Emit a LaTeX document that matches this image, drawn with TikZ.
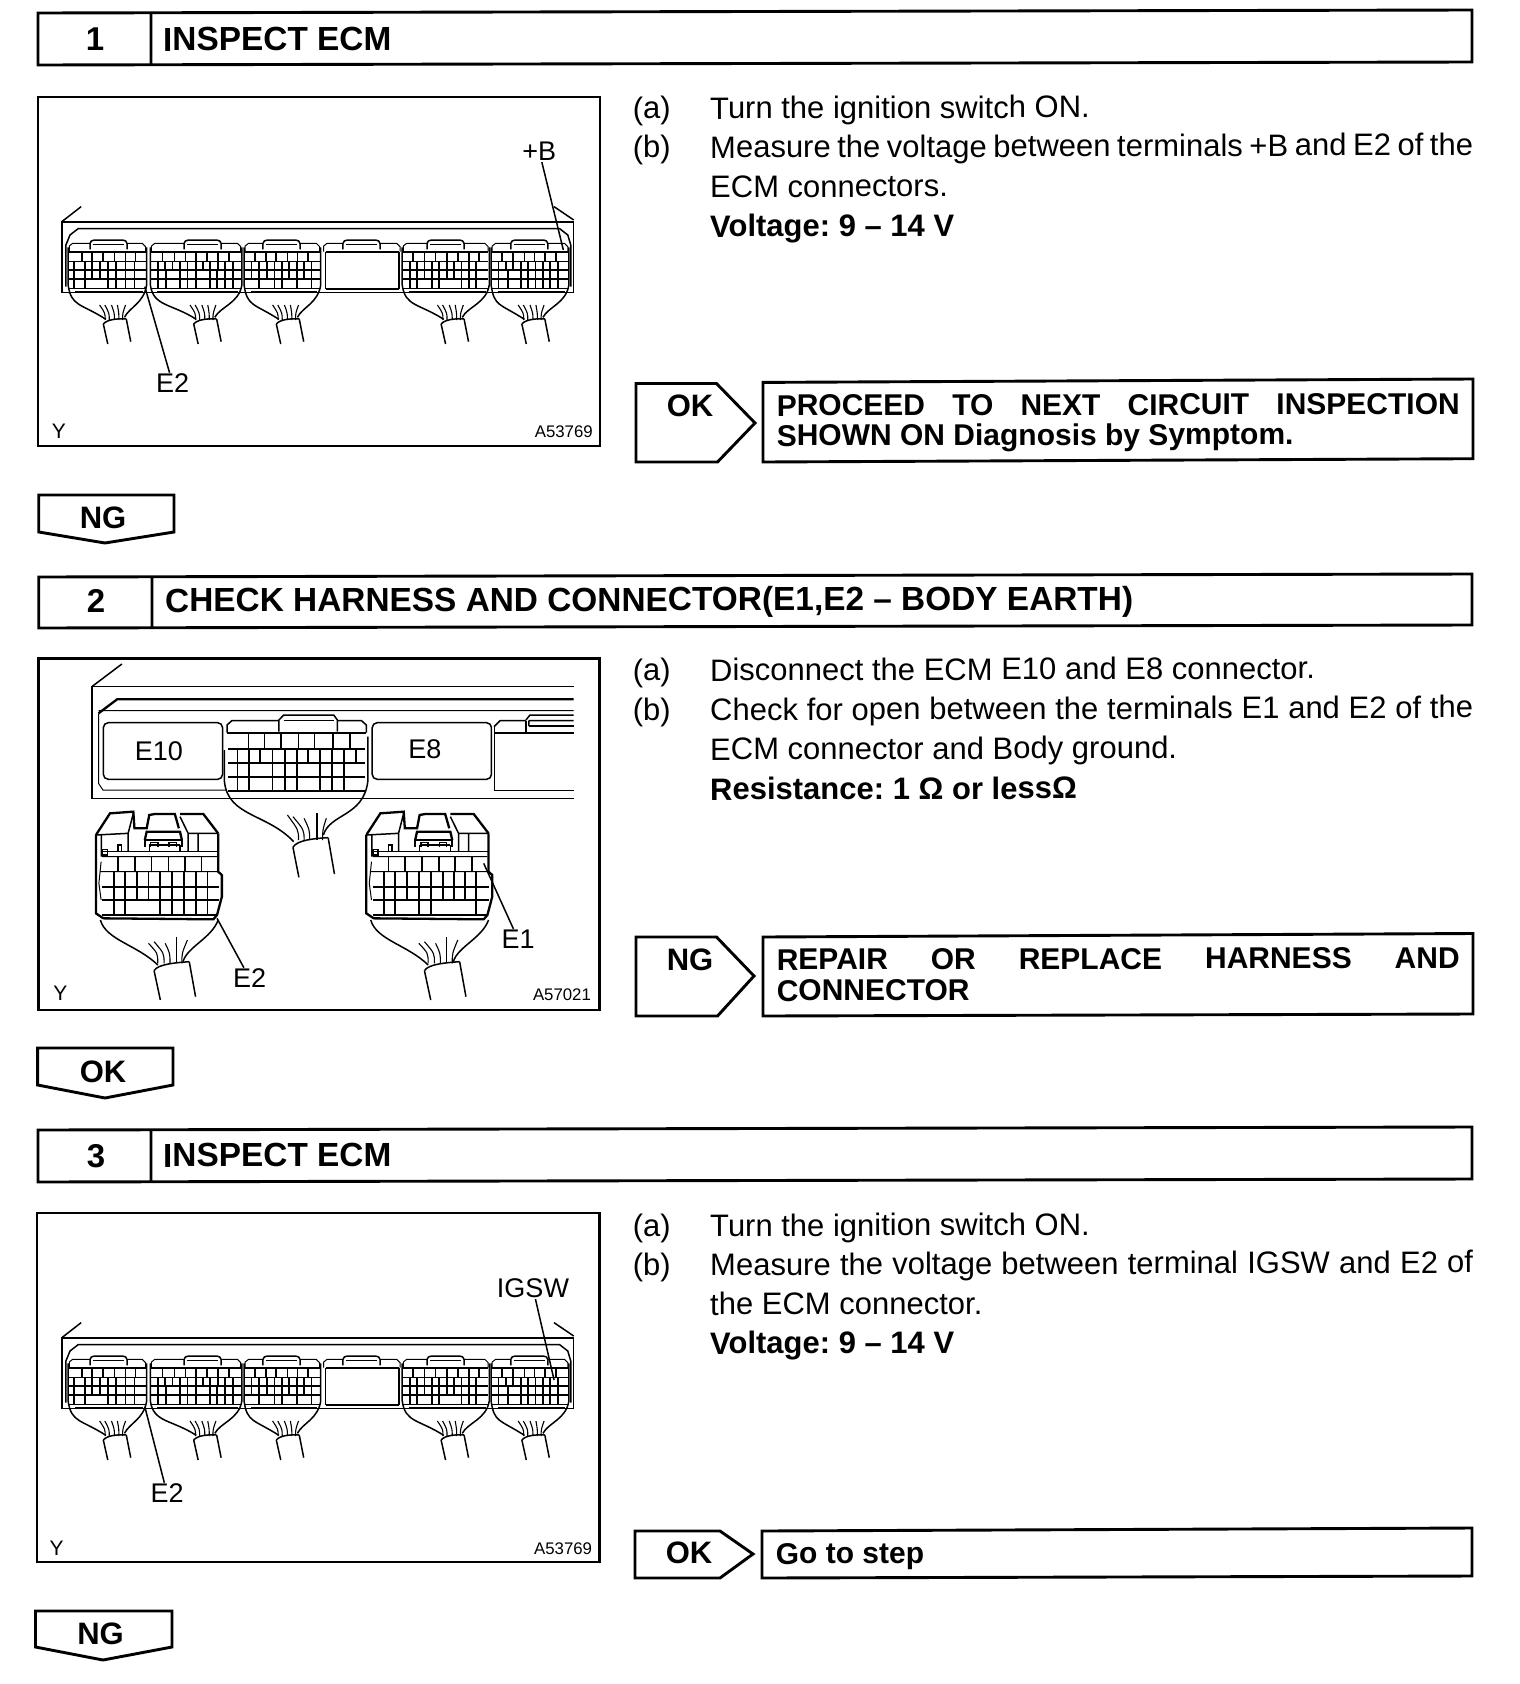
\documentclass[tikz,border=0pt]{standalone}
\usepackage{fontspec}
\setmainfont{Liberation Sans}
\frenchspacing
\newcommand\vrow[3]{\foreach \v in {#3}{\draw[gridv] (\v,#1)--(\v,#2);}}
% one connector of the ECM strip: xL, xR, tab centre, cable left, then four rows of verticals
\newcommand\ecmtop[3]{%
  \draw[thin line] (#1+3,485)--(#1+3,468)--(#1+12,460)--(#3-50,460) (#3+50,460)--(#2-12,460)--(#2-3,470)--(#2-3,485);
  \draw[mid line,rounded corners=1.5pt,fill=white] (#3-50,478)--(#3-50,456)--(#3-42,450)--(#3+42,450)--(#3+50,456)--(#3+50,478);
  \draw[thin line] (#3-42,463)--(#3+42,463);
}
\newcommand\ecmunit[8]{%
  \ecmtop{#1}{#2}{#3}
  \draw[gridh] (#1+3,485)--(#2-3,485);
  \draw[thin line] (#1+3,515)--(#2-3,515);
  \draw[gridh] (#1+3,540)--(#2-3,540) (#1+3,567)--(#2-3,567);
  \draw[gridh] (#1+18,607)--(#2-10,607);
  \draw[thin line] (#1+3,595)--(#2-3,595);
  \vrow{485}{515}{#5}\vrow{515}{540}{#6}\vrow{540}{567}{#7}\vrow{567}{595}{#8}
  \draw[hood] (#1,472)--(#1,585) .. controls (#1+8,650) and (#4-60,640) .. (#4+7,688);
  \draw[hood] (#2,472)--(#2,585) .. controls (#2-8,640) and (#4+72,650) .. (#4+57,682);
  \draw[hood] (#4,702) .. controls (#4+10,688) and (#4+40,685) .. (#4+62,687);
  \draw[hood] (#4,702)--(#4+12,762) (#4+62,687)--(#4+74,755);
  \foreach \a/\b in {5/-10,16/4,30/22,42/38,52/60}{\draw[wire] (#4+\a,690) .. controls (#4+\a,670) .. (#4+\b,645);}
}
\newcommand\ecmstrip{%
  \draw[mid line] (86,607)--(86,395)--(1468,395)--(1468,607)--cycle;
  \draw[heavy] (86,395)--(1468,395);
  \draw[mid line] (86,395)--(138,350) (1468,390)--(1415,350);
  \draw[mid line] (97,590)--(97,465)--(108,435)--(130,416)--(1430,416)--(1452,435)--(1460,465)--(1460,590);
  \ecmunit{103}{315}{212}{198}{140,168,198,228,258,285}{118,148,168,190,210,232,258,282}{118,148,168,190,210,232,258,282}{118,148,210,232,258,282}
  \ecmunit{325}{572}{466}{442}{358,390,420,448,478,508,537}{345,365,385,405,425,448,468,487,507,527,548}{345,368,405,425,448,485,505,527,548}{345,368,405,425,448,485,505,527,548}
  \ecmunit{578}{785}{679}{665}{608,638,665,695,722,750}{598,618,640,660,680,700,720,740,760}{598,618,640,660,680,700,720,740,760}{618,660,680,720,760}
  \ecmtop{790}{1002}{895}
  \draw[gridv] (798,485)--(798,597) (997,485)--(997,597);
  \draw[gridh] (798,485)--(997,485) (798,597)--(997,597);
  \ecmunit{1005}{1240}{1122}{1110}{1035,1065,1095,1125,1155,1185,1212}{1025,1045,1065,1085,1105,1125,1145,1165,1185,1205}{1025,1045,1065,1085,1105,1125,1145,1165,1185,1205}{1025,1045,1085,1105,1165,1185,1205}
  \ecmunit{1245}{1455}{1348}{1328}{1275,1305,1335,1362,1390,1420}{1265,1285,1305,1325,1345,1365,1385,1405,1425}{1265,1290,1325,1345,1365,1385,1405,1425}{1265,1290,1325,1345,1365,1385,1405,1425}
}
% lower (unplugged) connector of picture 2
\newcommand\lowconn[3]{%
  \draw[heavy] (178,555)--(216,490)--(279,485)--(282,535)--(315,535)--(322,495)--(337,492)--(391,492)--(402,535);
  \draw[heavy] (405,492)--(468,492)--(508,550);
  \draw[heavy] (178,555)--(178,790)--(198,805)--(495,808)--(505,795)--(518,740)--(518,675)--(508,665)--(508,550);
  \draw[mid line] (178,555)--(265,550)--(279,490) (265,550)--(265,605);
  \draw[mid line] (405,500)--(427,550)--(427,605) (427,550)--(508,550) (454,550)--(454,605) (193,555)--(193,620);
  \draw[heavy] (310,570)--(315,545)--(405,545)--(410,570);
  \draw[mid line] (310,570)--(410,570) (310,570)--(310,590) (410,570)--(410,590);
  \draw[mid line] (325,590)--(325,578)--(345,578)--(345,590) (375,590)--(375,578)--(395,578)--(395,590);
  \draw[heavy] (322,585)--(405,585);
  \draw[mid line] (322,585)--(322,605) (405,585)--(405,605);
  \draw[mid line] (196,598) rectangle (209,615);
  \draw[mid line] (238,605)--(238,585)--(247,585)--(247,605);
  \draw[mid line] (193,605)--(508,605);
  \draw[thin line] (195,620)--(505,620) (190,665)--(510,665) (192,635)--(186,700)--(192,750);
  \draw[gridh] (195,712)--(510,712) (195,750)--(510,750) (195,795)--(505,795);
  \vrow{620}{665}{238,283,328,374,418,463}
  \vrow{665}{712}{#1}\vrow{712}{750}{#2}\vrow{750}{795}{#3}
  \draw[hood] (190,810) .. controls (205,870) and (290,885) .. (345,945);
  \draw[hood] (508,810) .. controls (490,865) and (425,890) .. (413,935);
  \draw[hood] (335,962) .. controls (345,942) and (395,938) .. (430,935);
  \draw[hood] (335,962)--(352,1050) (430,935)--(447,1040);
  \foreach \a/\b/\c in {345/320/880,362/335/875,378/365/880,395/395/860,410/425/870}{\draw[wire] (\a,940) .. controls (\a,910) .. (\b,\c);}
}
\tikzset{
  x=1pt,y=-1pt,
  box/.style={draw=black,line width=2.9pt,line join=miter},
  num/.style={inner sep=0pt,font=\bfseries\fontsize{33}{36}\selectfont},
  head/.style={anchor=base west,inner sep=0pt,rotate=0.12,font=\bfseries\fontsize{33.4}{36}\selectfont},
  body/.style={anchor=base west,inner sep=0pt,rotate=0.2,font=\fontsize{31}{34}\selectfont},
  bodyb/.style={body,font=\bfseries\fontsize{31}{34}\selectfont},
  tag/.style={inner sep=0pt,font=\bfseries\fontsize{31}{34}\selectfont},
  action/.style={anchor=base west,inner sep=0pt,rotate=0.15,font=\bfseries\fontsize{30}{34}\selectfont},
  lab/.style={inner sep=1pt,font=\fontsize{27}{30}\selectfont},
  ylab/.style={inner sep=0pt,font=\fontsize{21}{24}\selectfont},
  code/.style={anchor=east,inner sep=0pt,font=\fontsize{16.8}{20}\selectfont},
  frame/.style={draw=black,line width=2.8pt},
  leader/.style={draw=black,line width=1.5pt},
  thin line/.style={draw=black,line width=1pt},
  mid line/.style={draw=black,line width=1.5pt},
  heavy/.style={draw=black,line width=2.3pt},
  gridh/.style={draw=black,line width=2.2pt},
  gridv/.style={draw=black,line width=1.8pt},
  hood/.style={draw=black,line width=1.5pt},
  wire/.style={draw=black,line width=1.1pt},
}
\begin{document}
\begin{tikzpicture}
\useasboundingbox (0,0) rectangle (1520,1684);
% ---------- headers
\draw[box] (38,13)--(1472,10)--(1472,62)--(38,65)--cycle (151,13)--(151,65);
\node[num] (n1) at (95,39) {1};
\node[head] (h1) at (163,51) {INSPECT ECM};
\draw[box] (38.7,577)--(1472,574)--(1472,625)--(38.7,628)--cycle (152,577)--(152,628);
\node[num] (n2) at (96,601) {2};
\node[head] (h2) at (165,612) {CHECK HARNESS AND CONNECTOR(E1,E2 -- BODY EARTH)};
\draw[box] (38,1130)--(1472,1127)--(1472,1179)--(38,1182)--cycle (151,1130)--(151,1182);
\node[num] (n3) at (96,1156) {3};
\node[head] (h3) at (163,1167) {INSPECT ECM};
% ---------- picture frames
\draw[frame] (38,97) rectangle (600,446);
\draw[frame] (38.7,658.5) rectangle (599.5,1010);
\draw[frame] (37,1213) rectangle (599.5,1562);
% ---------- picture 1
\begin{scope}[shift={(30pt,-90pt)},x=0.37037pt,y=-0.33333pt]
  \ecmstrip
  \node[lab] (pb1) at (1375,185) {+B};
  \coordinate (pb1t) at (1440,480);
  \draw[leader] (pb1) -- (pb1t);
  \node[lab] (e21) at (385,880) {E2};
  \coordinate (e21t) at (310,590);
  \draw[leader] (e21) -- (e21t);
  \node[ylab] (y1) at (78,1025) {Y};
  \node[code] (c1) at (1520,1025) {A53769};
\end{scope}
% ---------- picture 2
\begin{scope}[shift={(30pt,-650pt)},x=0.37037pt,y=-0.33333pt]
  \draw[mid line] (1468,110)--(167,110)--(167,445)--(1468,445);
  \draw[mid line] (167,110)--(248,42);
  \draw[heavy] (185,190)--(235,148)--(1468,148);
  \draw[thin line] (185,190)--(185,400)--(197,420)--(530,420) (185,182)--(1468,182);
  \draw[mid line,rounded corners=5pt] (198,218) rectangle (520,388);
  \draw[mid line,rounded corners=5pt] (924,218) rectangle (1246,388);
  \node[lab] (e10) at (348,303) {E10};
  \node[lab] (e8) at (1066,297) {E8};
  % centre connector
  \draw[mid line] (532,248)--(532,225)--(545,212)--(672,212) (830,212)--(895,212)--(908,225)--(908,248);
  \draw[mid line,fill=white] (672,245)--(672,210)--(685,195)--(820,195)--(830,210)--(830,245);
  \draw[thin line] (685,212)--(820,212);
  \draw[gridh] (532,248)--(908,248) (535,296)--(905,296) (535,338)--(905,338) (535,380)--(905,380) (535,422)--(905,422);
  \vrow{248}{296}{590,633,678,725,768,818,865}
  \vrow{296}{338}{560,592,622,655,688,720,750,782,815,848,880}
  \vrow{338}{380}{560,592,655,688,720,782,815,848}
  \vrow{380}{422}{560,592,655,688,720,782,815,848}
  \draw[hood] (525,300)--(525,395) .. controls (535,500) and (640,490) .. (712,575);
  \draw[hood] (912,260)--(912,395) .. controls (900,500) and (810,490) .. (792,555);
  \draw[hood] (710,592) .. controls (720,570) and (770,565) .. (805,563);
  \draw[hood] (710,592)--(726,682) (805,563)--(822,672);
  \foreach \a/\b/\c in {725/695/495,740/710/500,755/740/505,775/775/490,790/800/505}{\draw[wire] (\a,570) .. controls (\a,540) .. (\b,\c);}
  % right-hand partial connector
  \draw[thin line] (1253,420)--(1253,230);
  \draw[heavy] (1253,248)--(1468,248);
  \draw[mid line] (1253,230)--(1269,212)--(1339,212);
  \draw[heavy] (1339,212)--(1339,245);
  \draw[mid line] (1339,210)--(1350,195)--(1468,195) (1347,212)--(1468,212) (1347,212)--(1347,228);
  \draw[heavy] (1347,228)--(1468,228);
  \draw[thin line] (1253,420)--(1468,420);
  % unplugged connectors
  \lowconn{227,256,288,320,351,384,416,448,479}{227,256,288,320,351,384,416,448,479}{227,256,351,384,416,448,479}
  \begin{scope}[shift={(730*0.37037pt,0pt)}]
    \lowconn{225,255,288,320,352,385,415,445,475}{225,255,288,320,352,385,415,445,475}{225,255,320,352,475}
  \end{scope}
  \node[lab] (e22) at (593,985) {E2};
  \coordinate (e22t) at (505,805);
  \draw[leader] (e22) -- (e22t);
  \node[lab] (e1) at (1318,868) {E1};
  \coordinate (e1t) at (1225,640);
  \draw[leader] (e1) -- (e1t);
  \node[ylab] (y2) at (82,1030) {Y};
  \node[code] (c2) at (1515,1035) {A57021};
\end{scope}
% ---------- picture 3
\begin{scope}[shift={(30pt,-1206pt)},x=0.37037pt,y=-0.33333pt]
  \ecmstrip
  \node[lab] (ig) at (1358,247) {IGSW};
  \coordinate (igt) at (1415,522);
  \draw[leader] (ig) -- (igt);
  \node[lab] (e23) at (370,862) {E2};
  \coordinate (e23t) at (310,602);
  \draw[leader] (e23) -- (e23t);
  \node[ylab] (y3) at (72,1027) {Y};
  \node[code] (c3) at (1518,1027) {A53769};
\end{scope}
% ---------- texts, step 1
\node[body] (a1l) at (632.7,119) {(a)};
\node[body] (a1) at (710,119) {Turn the ignition switch ON.};
\node[body] (b1l) at (632.7,158) {(b)};
\node[body] (b1) at (710,158) {\makebox[763pt][s]{Measure the voltage between terminals +B and E2 of the}};
\node[body] (b1b) at (710,197.5) {ECM connectors.};
\node[bodyb] (v1) at (710,237) {Voltage: 9 -- 14 V};
% ---------- texts, step 2
\node[body] (a2l) at (632.7,681) {(a)};
\node[body] (a2) at (710,681) {Disconnect the ECM E10 and E8 connector.};
\node[body] (b2l) at (632.7,720.5) {(b)};
\node[body] (b2) at (710,720.5) {\makebox[763pt][s]{Check for open between the terminals E1 and E2 of the}};
\node[body] (b2b) at (710,760) {ECM connector and Body ground.};
\node[bodyb] (v2) at (710,800) {Resistance: 1 Ω or lessΩ};
% ---------- texts, step 3
\node[body] (a3l) at (632.7,1236.5) {(a)};
\node[body] (a3) at (710,1236.5) {Turn the ignition switch ON.};
\node[body] (b3l) at (632.7,1275.5) {(b)};
\node[body] (b3) at (710,1275.5) {\makebox[763pt][s]{Measure the voltage between terminal IGSW and E2 of}};
\node[body] (b3b) at (710,1315) {the ECM connector.};
\node[bodyb] (v3) at (710,1354) {Voltage: 9 -- 14 V};
% ---------- result arrows
\draw[box] (636,383.5)--(716.5,383.5)--(755,423)--(717.5,462)--(636,462)--cycle;
\node[tag] (ok1) at (690,406) {OK};
\draw[box] (763,382.4)--(1473,379)--(1473,458.7)--(763,462)--cycle;
\node[action] (act1) at (776.6,416) {\makebox[683pt][s]{PROCEED TO NEXT CIRCUIT INSPECTION}};
\node[action] (act1b) at (776.6,446) {SHOWN ON Diagnosis by Symptom.};
\draw[box] (636,937)--(716.5,937)--(754,976)--(717.5,1016)--(636,1016)--cycle;
\node[tag] (ng2) at (690,960) {NG};
\draw[box] (763,937)--(1473,933.5)--(1473,1014)--(763,1016)--cycle;
\node[action] (act2) at (776.6,970) {\makebox[683pt][s]{REPAIR OR REPLACE HARNESS AND}};
\node[action] (act2b) at (776.6,1001) {CONNECTOR};
\draw[box] (635,1531)--(720,1531)--(753,1554)--(720,1578)--(635,1578)--cycle;
\node[tag] (ok3) at (689,1553) {OK};
\draw[box] (762,1531)--(1472,1528)--(1472,1576)--(762,1578)--cycle;
\node[action] (act3) at (775.6,1564) {Go to step};
% ---------- down tabs
\draw[box] (38.7,495)--(174,495)--(174,532)--(105,543)--(38.7,532)--cycle;
\node[tag] (ng1) at (103,518) {NG};
\draw[box] (37.6,1048)--(173,1048)--(173,1085)--(105,1098)--(37.6,1085)--cycle;
\node[tag] (ok2) at (103,1072) {OK};
\draw[box] (35.5,1611)--(172,1611)--(172,1647)--(103,1660)--(35.5,1647)--cycle;
\node[tag] (ng3) at (100.5,1634) {NG};
\end{tikzpicture}
\end{document}
